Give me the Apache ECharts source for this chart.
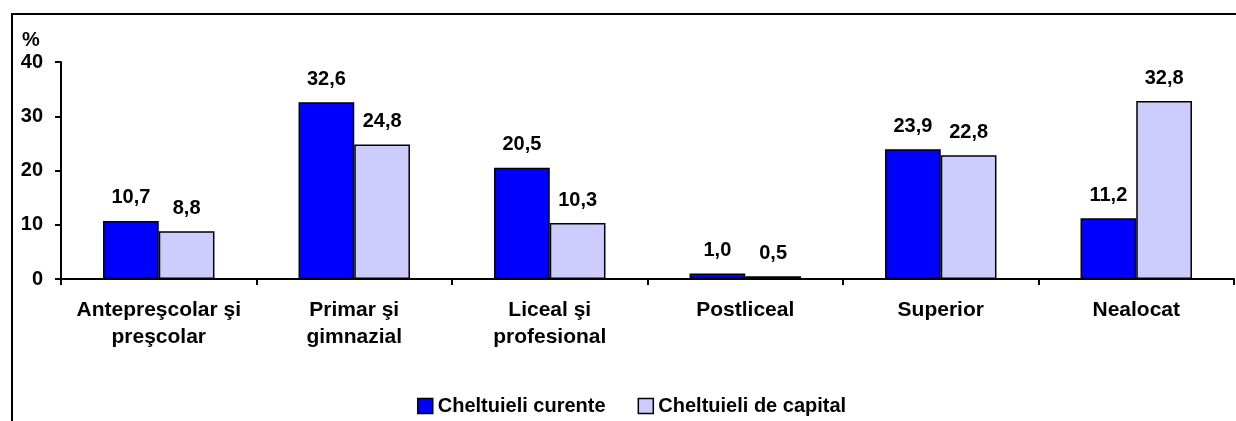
<!DOCTYPE html>
<html>
<head>
<meta charset="utf-8">
<script src="https://cdn.jsdelivr.net/npm/echarts@6/dist/echarts.min.js"></script>
<style>
  html, body { margin: 0; padding: 0; background: #fff; }
  #chart { width: 1236px; height: 421px; }
</style>
</head>
<body>
<div id="chart"></div>
<script>
// Education levels and spending shares (%)
const categories = [
  'Antepreşcolar şi\npreşcolar',
  'Primar şi\ngimnazial',
  'Liceal şi\nprofesional',
  'Postliceal',
  'Superior',
  'Nealocat'
];
const seriesNames = ['Cheltuieli curente', 'Cheltuieli de capital'];
const curente = [10.7, 32.6, 20.5, 1.0, 23.9, 11.2];
const capital = [8.8, 24.8, 10.3, 0.5, 22.8, 32.8];
const yTicks = [0, 10, 20, 30, 40];

const FONT = '"Liberation Sans", Arial, sans-serif';
const fmt = v => v.toFixed(1).replace('.', ',');

const chart = echarts.init(document.getElementById('chart'), null, { renderer: 'canvas' });

const labelStyle = {
  show: true,
  position: 'top',
  distance: 13,
  fontFamily: FONT,
  fontWeight: 'bold',
  fontSize: 20,
  color: '#000',
  formatter: p => fmt(p.value)
};

chart.setOption({
  animation: false,
  backgroundColor: '#fff',
  grid: { left: 61, right: 2, top: 62, bottom: 142, containLabel: false },
  graphic: [
    {
      type: 'rect',
      shape: { x: 12, y: 14, width: 1232, height: 430 },
      style: { fill: 'none', stroke: '#000', lineWidth: 2 },
      silent: true
    },
    {
      type: 'text',
      left: 22,
      top: 30,
      style: { text: '%', font: 'bold 20px ' + FONT, fill: '#000' }
    }
  ],
  legend: {
    bottom: 0,
    left: 412,
    itemWidth: 15,
    itemHeight: 15,
    itemGap: 32,
    icon: 'rect',
    textStyle: { fontFamily: FONT, fontWeight: 'bold', fontSize: 20, color: '#000' },
    itemStyle: { borderColor: '#000', borderWidth: 1.5 },
    data: seriesNames
  },
  xAxis: {
    type: 'category',
    data: categories,
    axisLine: { lineStyle: { color: '#000', width: 2 } },
    axisTick: { show: true, length: 6, lineStyle: { color: '#000', width: 2 }, alignWithLabel: false },
    axisLabel: {
      interval: 0,
      margin: 18,
      fontFamily: FONT,
      fontWeight: 'bold',
      fontSize: 21,
      lineHeight: 27,
      color: '#000'
    },
    splitLine: { show: false }
  },
  yAxis: {
    type: 'value',
    min: yTicks[0],
    max: yTicks[yTicks.length - 1],
    interval: 10,
    axisLine: { show: true, lineStyle: { color: '#000', width: 2 } },
    axisTick: { show: true, length: 6, lineStyle: { color: '#000', width: 2 } },
    axisLabel: {
      margin: 18,
      fontFamily: FONT,
      fontWeight: 'bold',
      fontSize: 20,
      color: '#000'
    },
    splitLine: { show: false }
  },
  series: [
    {
      name: seriesNames[0],
      type: 'bar',
      data: curente,
      barGap: '0%',
      barCategoryGap: '43%',
      itemStyle: { color: '#0000FF', borderColor: '#000', borderWidth: 1.5 },
      label: labelStyle
    },
    {
      name: seriesNames[1],
      type: 'bar',
      data: capital,
      itemStyle: { color: '#CCCCFF', borderColor: '#000', borderWidth: 1.5 },
      label: labelStyle
    }
  ]
});
</script>
</body>
</html>
